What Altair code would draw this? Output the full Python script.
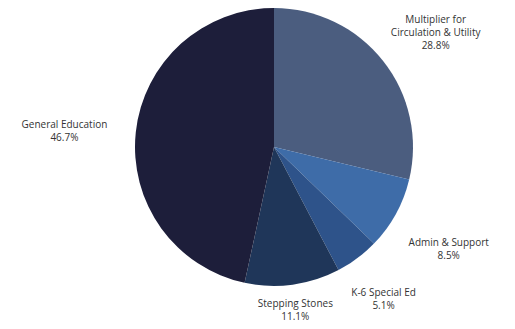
import altair as alt
import pandas as pd

categories = [
    "Multiplier for\nCirculation & Utility",
    "Admin & Support",
    "K-6 Special Ed",
    "Stepping Stones",
    "General Education",
]
values = [28.8, 8.5, 5.1, 11.1, 46.7]
colors = ["#4b5d7f", "#3e6ca8", "#2e538a", "#1f3659", "#1d1e3a"]

df = pd.DataFrame({"name": categories, "value": values, "idx": list(range(len(values)))})

pie = alt.Chart(df).mark_arc(outerRadius=139, stroke=None).encode(
    theta=alt.Theta("value:Q", stack=True),
    order=alt.Order("idx:Q"),
    color=alt.Color("name:N", scale=alt.Scale(domain=categories, range=colors), legend=None),
)

labels = (
    alt.Chart(df)
    .transform_joinaggregate(total="sum(value)")
    .transform_window(cum="sum(value)", sort=[alt.SortField("idx")], frame=[None, 0])
    .transform_calculate(
        mid="2*PI*(datum.cum - datum.value/2)/datum.total",
        r="162 + 48*abs(sin(datum.mid)) + 10*cos(datum.mid)",
        label="datum.name + '\\n' + format(datum.value, '.1f') + '%'",
    )
    .mark_text(
        lineBreak="\n",
        font="Open Sans",
        fontSize=10,
        color="#333333",
        align="center",
        baseline="middle",
        lineHeight=13,
    )
    .encode(
        text="label:N",
        theta=alt.Theta("mid:Q", scale=None, stack=None),
        radius=alt.Radius("r:Q", scale=None),
    )
)

chart = (
    alt.layer(pie, labels)
    .resolve_scale(theta="independent")
    .properties(
        width=460,
        height=278,
        padding={"left": 36, "top": 0, "right": 0, "bottom": 42},
        autosize=alt.AutoSizeParams(type="none"),
    )
    .configure_view(stroke=None)
)

chart.save("out.html", embed_options={"renderer": "svg", "actions": False})
